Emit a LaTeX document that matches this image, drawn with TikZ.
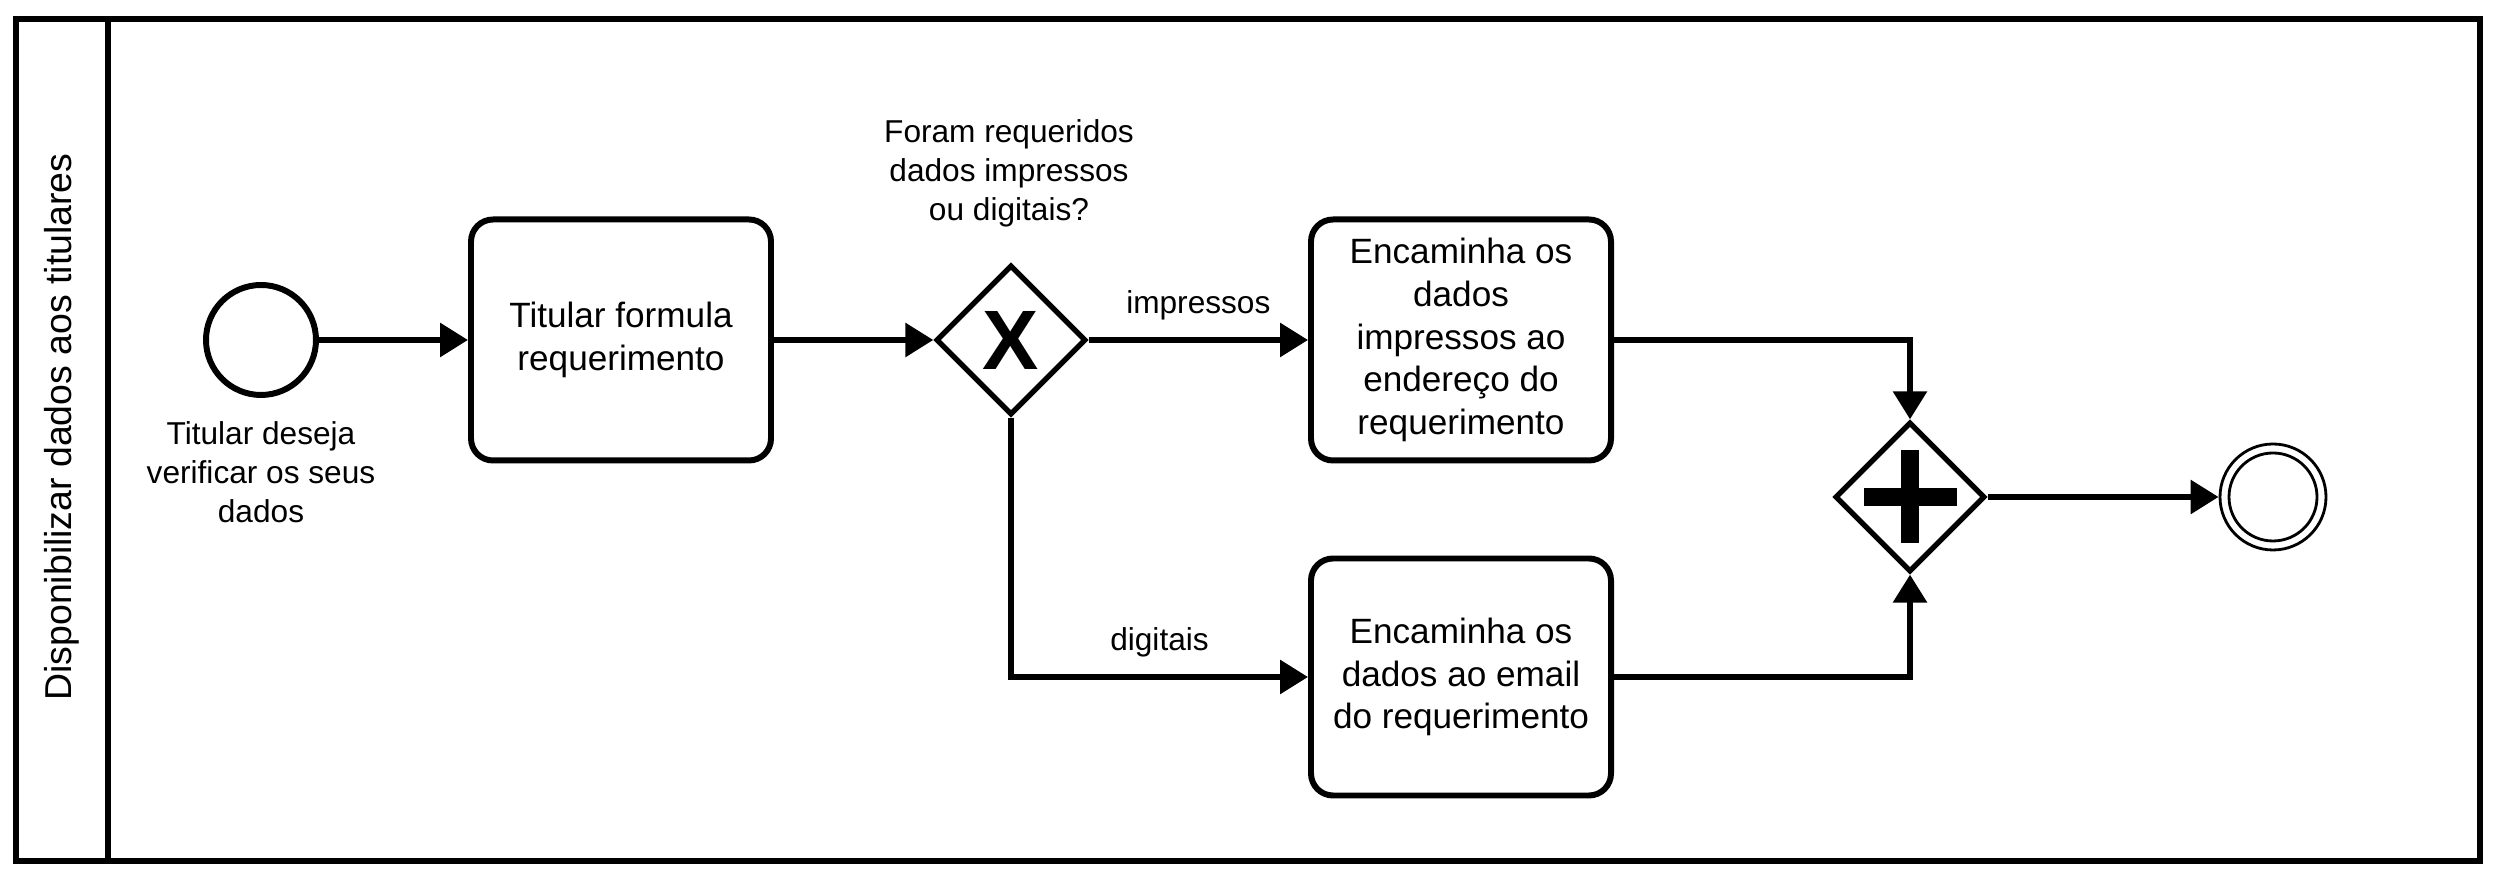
\documentclass[tikz,border=0pt]{standalone}
\usepackage{fontspec}
\setmainfont{Liberation Sans}
\usetikzlibrary{shapes.geometric, arrows.meta, positioning}

\begin{document}
\begin{tikzpicture}[line width=1.7pt, >={Triangle[length=0.28cm, width=0.33cm]}]
    	\tikzstyle{task}=[rectangle, rounded corners=0.22cm, draw=black, line width=1.7pt, minimum width=3.0cm, minimum height=2.41cm, align=center, font=\fontsize{10}{12.2}\selectfont];
    	\tikzstyle{gate}=[diamond, draw=black, line width=1.5pt, minimum width=1.5cm, minimum height=1.5cm, inner sep=0pt];
    	\tikzstyle{lbl}=[align=center, font=\fontsize{9}{11.1}\selectfont];

    \useasboundingbox (0, 0) rectangle (24.99, -8.76);
    \draw[line width=1.7pt] (0.16, -0.19) rectangle (24.80, -8.61);
    \draw[line width=1.7pt] (1.08, -0.19) -- (1.08, -8.61);
    \node[rotate=90, font=\fontsize{10.65}{12}\selectfont] (0) at (0.62, -4.27) {Disponibilizar dados aos titulares};

       \node[circle, draw=black, minimum size=1.1cm] (1) at (2.61, -3.40) {};
       \node (11) at (2.61, -4.72) [lbl] {Titular deseja\\verificar os seus\\dados};

    \node (2) at (6.21, -3.40) [task] {Titular formula\\requerimento};
    \node (3) at (10.11, -3.40) [gate] {\fontsize{24}{24}\selectfont\bfseries X};
    \node (33) at (10.09, -1.73) [lbl] {Foram requeridos\\dados impressos\\ou digitais?};
    \node (4) at (14.61, -3.40) [task] {Encaminha os\\dados\\impressos ao\\endereço do\\requerimento};
    \node (6) at (14.61, -6.77) [task, minimum height=2.37cm] {Encaminha os\\dados ao email\\do requerimento};
    \node (5) at (19.10, -4.97) [gate] {};
    \fill ([shift={(-0.465, -0.09)}]5.center) rectangle ++(0.93, 0.18);
    \fill ([shift={(-0.09, -0.465)}]5.center) rectangle ++(0.18, 0.93);
    \node[circle, draw=black, line width=0.8pt, minimum size=1.06cm] (7) at (22.73, -4.97) {};
    \draw[line width=0.8pt] (7.center) circle (0.44);

    \draw[->] (1) -- (2);
    \draw[->] (2) -- (3);
    \draw[->] (3) -- node[lbl, above=0.05cm] (34) {impressos} (4);
    \draw[->] (3.south) |- node[lbl, above=0.05cm, pos=0.75] (36) {digitais} (6);
    \draw[->] (4.east) -| (5.north);
    \draw[->] (6.east) -| (5.south);
    \draw[->] (5) -- (7);

	\end{tikzpicture}
\end{document}
